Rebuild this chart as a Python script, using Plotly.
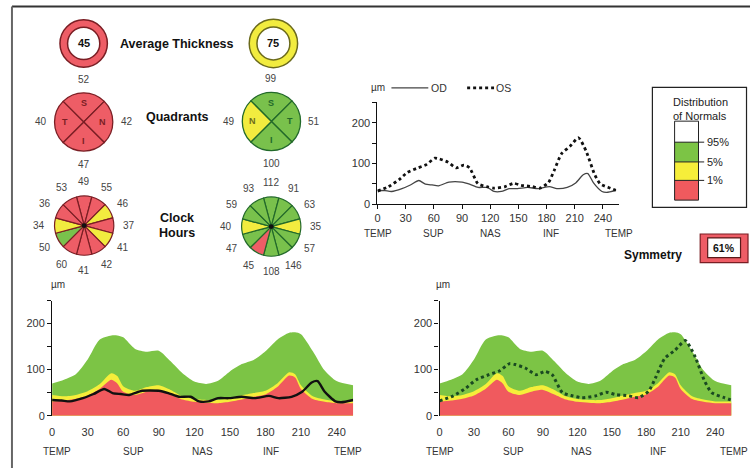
import math
import plotly.graph_objects as go

W, H = 750, 474
def X(px): return px / W
def Y(py): return 1 - py / H

# ------------------------------------------------------------------ data
avg_thickness = [45, 75]
avg_class = ["red", "yellow"]

quad_names_od = ["S", "N", "I", "T"]          # clockwise from 12 o'clock
quad_vals_od = [52, 42, 47, 40]
quad_class_od = ["red", "red", "red", "red"]
quad_names_os = ["S", "T", "I", "N"]
quad_vals_os = [99, 51, 100, 49]
quad_class_os = ["green", "green", "green", "yellow"]

clock_vals_od = [49, 55, 46, 37, 41, 42, 41, 60, 50, 34, 36, 53]
clock_class_od = ["red", "red", "yellow", "red", "yellow", "red",
                  "red", "red", "green", "yellow", "red", "red"]
clock_vals_os = [112, 91, 63, 35, 57, 146, 108, 45, 47, 40, 59, 93]
clock_class_os = ["green", "green", "green", "yellow", "green", "green",
                  "green", "red", "green", "yellow", "green", "green"]

symmetry = 61

norm_angle = [0, 10, 20, 30, 40, 50, 55, 60, 70, 80, 90, 100, 110, 120, 130, 140,
              150, 160, 170, 180, 190, 200, 205, 210, 220, 230, 240, 254]
norm_p95 = [70, 78, 90, 122, 165, 174, 174, 170, 145, 139, 141, 118, 92, 74, 69, 76,
            96, 112, 121, 140, 165, 180, 181, 177, 140, 98, 75, 66]
norm_p5 = [45, 42, 45, 53, 68, 92, 86, 64, 54, 62, 66, 56, 42, 36, 34, 34,
           38, 44, 49, 54, 70, 94, 90, 66, 42, 35, 31, 31]
norm_p1 = [31, 33, 37, 44, 58, 78, 70, 52, 45, 52, 56, 46, 35, 30, 28, 27,
           30, 35, 41, 46, 62, 87, 83, 58, 36, 30, 27, 27]

od_angle = [0, 8, 15, 26, 35, 44, 51, 58, 65, 76, 90, 98, 107, 117, 124, 132, 140,
            149, 160, 171, 183, 191, 202, 211, 219, 224, 230, 239, 244, 254]
od_thick = [34, 33, 31, 38, 47, 58, 49, 47, 45, 54, 54, 49, 41, 41, 31, 31, 38,
            38, 41, 38, 43, 38, 41, 52, 72, 75, 52, 31, 29, 34]

os_angle = [0, 12, 23, 32, 43, 52, 61, 66, 75, 84, 92, 98, 107, 116, 124, 136, 145,
            153, 165, 173, 182, 188, 196, 205, 214, 222, 231, 237, 248, 256]
os_thick = [32, 43, 60, 78, 89, 97, 113, 111, 103, 89, 96, 89, 50, 43, 39, 43, 51,
            46, 43, 39, 53, 82, 124, 142, 163, 131, 74, 50, 39, 32]

x_ticks = [0, 30, 60, 90, 120, 150, 180, 210, 240]
y_ticks = [0, 50, 100, 150, 200, 250]
y_tick_text = ["0", "", "100", "", "200", ""]
region_labels = ["TEMP", "SUP", "NAS", "INF", "TEMP"]
region_pos_top = [1, 60, 120, 185, 257]
region_pos_bl = [4, 69, 127, 185, 250]
region_pos_br = [0, 64, 124, 190, 256]
dist_labels = ["95%", "5%", "1%"]

# ------------------------------------------------------------------ style
FILL = {"red": "#EE5D66", "yellow": "#F2EC3F", "green": "#79C14C"}
BAND = {"red": "#F05A5E", "yellow": "#F6EE3A", "green": "#7CC445"}
EDGE = {"red": "#7A1E24", "yellow": "#6B6A1C", "green": "#22692A"}
TXT = "#333333"
FONT = "Liberation Sans, Arial, sans-serif"

fig = go.Figure()
ann = []
shapes = []

def dom(cx, cy, r):
    return dict(x=[X(cx - r), X(cx + r)], y=[Y(cy + r), Y(cy - r)])

def label(x, y, text, size=10, color=TXT, bold=False, xanchor="center", xref="paper", yref="paper"):
    if bold:
        text = "<b>%s</b>" % text
    ann.append(dict(x=x, y=y, xref=xref, yref=yref, text=text, showarrow=False,
                    xanchor=xanchor, yanchor="middle",
                    font=dict(family=FONT, size=size, color=color)))

# ---- average thickness rings
for (cx, cy, r), val, cls in zip([(81, 44, 24), (271.5, 44, 24.5)], avg_thickness, avg_class):
    fig.add_trace(go.Pie(values=[1], hole=0.68, sort=False, textinfo="none", hoverinfo="skip",
                         marker=dict(colors=[FILL[cls]], line=dict(color=EDGE[cls], width=1.5)),
                         domain=dom(cx, cy, r)))
    label(X(cx), Y(cy), str(val), size=11, color="#111", bold=True)
label(X(174.5), Y(45), "Average Thickness", size=12.5, color="#111", bold=True)

# ---- quadrants
for (cx, cy, r), names, vals, cls, edge in [
        ((81, 123.5, 29.5), quad_names_od, quad_vals_od, quad_class_od, EDGE["red"]),
        ((269.5, 123, 29.5), quad_names_os, quad_vals_os, quad_class_os, EDGE["green"])]:
    fig.add_trace(go.Pie(values=[1] * 4, sort=False, direction="clockwise", rotation=-45,
                         textinfo="none", hoverinfo="skip",
                         marker=dict(colors=[FILL[c] for c in cls], line=dict(color=edge, width=1.3)),
                         domain=dom(cx, cy, r)))
    for i, (n, v, c) in enumerate(zip(names, vals, cls)):
        a = math.radians(i * 90)
        label(X(cx + 19 * math.sin(a)), Y(cy - 19 * math.cos(a)), n, size=9, color=EDGE[c], bold=True)
        R = 43
        label(X(cx + R * math.sin(a)), Y(cy - R * math.cos(a)), str(v), size=10, color="#444")
label(X(175), Y(118), "Quadrants", size=12.5, color="#111", bold=True)

# ---- clock hours
for (cx, cy, r), vals, cls, edge in [
        ((81.5, 228.5, 30), clock_vals_od, clock_class_od, EDGE["red"]),
        ((269.3, 229.5, 30), clock_vals_os, clock_class_os, EDGE["green"])]:
    fig.add_trace(go.Pie(values=[1] * 12, sort=False, direction="clockwise", rotation=-15,
                         textinfo="none", hoverinfo="skip",
                         marker=dict(colors=[FILL[c] for c in cls], line=dict(color=edge, width=1.2)),
                         domain=dom(cx, cy, r)))
    for i, v in enumerate(vals):
        a = math.radians(i * 30)
        R = 45
        label(X(cx + R * math.sin(a)), Y(cy - R * math.cos(a)), str(v), size=10, color="#444")
    shapes.append(dict(type="circle", xref="paper", yref="paper",
                       x0=X(cx - 2.5), x1=X(cx + 2.5), y0=Y(cy + 2.5), y1=Y(cy - 2.5),
                       fillcolor="#111", line=dict(width=0)))
label(X(175), Y(221), "Clock", size=12.5, color="#111", bold=True)
label(X(175), Y(236), "Hours", size=12.5, color="#111", bold=True)

# ---- top comparison chart
fig.add_trace(go.Scatter(x=od_angle, y=od_thick, mode="lines", xaxis="x", yaxis="y",
                         line=dict(color="#444", width=1.3, shape="spline", smoothing=0.6),
                         hoverinfo="skip"))
fig.add_trace(go.Scatter(x=os_angle, y=os_thick, mode="lines", xaxis="x", yaxis="y",
                         line=dict(color="#111", width=2.8, dash="dot", shape="spline", smoothing=0.6),
                         hoverinfo="skip"))

# ---- bottom charts
for xa, ya in [("x2", "y2"), ("x3", "y3")]:
    for band, cls in [(norm_p95, "green"), (norm_p5, "yellow"), (norm_p1, "red")]:
        fig.add_trace(go.Scatter(x=norm_angle, y=band, mode="lines", fill="tozeroy",
                                 fillcolor=BAND[cls], xaxis=xa, yaxis=ya,
                                 line=dict(width=0, shape="spline", smoothing=0.7),
                                 hoverinfo="skip"))
fig.add_trace(go.Scatter(x=od_angle, y=od_thick, mode="lines", xaxis="x2", yaxis="y2",
                         line=dict(color="#111", width=2.4, shape="spline", smoothing=0.6),
                         hoverinfo="skip"))
fig.add_trace(go.Scatter(x=os_angle, y=os_thick, mode="lines", xaxis="x3", yaxis="y3",
                         line=dict(color="#1A4A22", width=3, dash="dot", shape="spline", smoothing=0.6),
                         hoverinfo="skip"))

tickfont = dict(family=FONT, size=11, color=TXT)
def xax(d, rng, line):
    return dict(domain=d, range=rng, tickvals=x_ticks, showgrid=False, zeroline=False,
                showline=line, linecolor="#111", linewidth=1.2,
                ticks="outside", ticklen=4 if line else 6,
                tickcolor="#111" if line else "rgba(0,0,0,0)",
                tickfont=tickfont, fixedrange=True)
def yax(d, anchor):
    return dict(domain=d, range=[0, 250], tickvals=y_ticks, ticktext=y_tick_text,
                showgrid=False, zeroline=False, showline=True, linecolor="#111",
                linewidth=1.3, ticks="outside", ticklen=4, tickcolor="#111",
                tickfont=tickfont, anchor=anchor, fixedrange=True)

top_x0, top_ppu = 376, 0.943
bl_x0, bl_ppu = 49.3, 1.19
br_x0, br_ppu = 438.3, 1.153

fig.update_layout(
    xaxis=xax([X(top_x0), X(top_x0 + 257 * top_ppu)], [0, 257], True) | dict(anchor="y"),
    yaxis=yax([Y(206.7), Y(206.7 - 250 * 0.412)], "x"),
    xaxis2=xax([X(bl_x0), X(bl_x0 + 254 * bl_ppu)], [0, 254], False) | dict(anchor="y2"),
    yaxis2=yax([Y(421), Y(421 - 250 * 0.4665)], "x2"),
    xaxis3=xax([X(br_x0), X(br_x0 + 257 * br_ppu)], [0, 257], False) | dict(anchor="y3"),
    yaxis3=yax([Y(421), Y(421 - 250 * 0.4665)], "x3"),
)

# region labels
for pos_list, xref, ypx in [(region_pos_top, "x", 236), (region_pos_bl, "x2", 457), (region_pos_br, "x3", 457)]:
    for p, t in zip(pos_list, region_labels):
        label(p, Y(ypx), t, size=10, color=TXT, xref=xref)

# µm labels
label(X(377), Y(89), "µm", size=10)
label(X(55), Y(288), "µm", size=10)
label(X(442), Y(288), "µm", size=10)

# top legend
shapes.append(dict(type="line", xref="paper", yref="paper", x0=X(390), x1=X(427), y0=Y(89), y1=Y(89),
                   line=dict(color="#444", width=1.3)))
label(X(438), Y(89), "OD", size=10.5)
shapes.append(dict(type="line", xref="paper", yref="paper", x0=X(466), x1=X(493), y0=Y(89), y1=Y(89),
                   line=dict(color="#111", width=2.6, dash="dot")))
label(X(503), Y(89), "OS", size=10.5)

# distribution of normals box
shapes.append(dict(type="rect", xref="paper", yref="paper", x0=X(652), x1=X(746.5), y0=Y(210), y1=Y(88.5),
                   line=dict(color="#222", width=1.2), fillcolor="white"))
label(X(700), Y(103), "Distribution", size=11, color="#222")
label(X(700), Y(117), "of Normals", size=11, color="#222")
bar_edges = [122.7, 144, 164, 182.7, 202.7]
for (top, bot), cls in zip(zip(bar_edges[:-1], bar_edges[1:]), ["white", "green", "yellow", "red"]):
    shapes.append(dict(type="rect", xref="paper", yref="paper", x0=X(674.3), x1=X(698.3),
                       y0=Y(bot), y1=Y(top), line=dict(width=0),
                       fillcolor="white" if cls == "white" else BAND[cls]))
shapes.append(dict(type="rect", xref="paper", yref="paper", x0=X(674.3), x1=X(698.3),
                   y0=Y(202.7), y1=Y(122.7), line=dict(color="#222", width=1)))
for edge_y, t in zip(bar_edges[1:4], dist_labels):
    shapes.append(dict(type="line", xref="paper", yref="paper", x0=X(674.3), x1=X(704), y0=Y(edge_y), y1=Y(edge_y),
                       line=dict(color="#222", width=1)))
    label(X(704.5), Y(edge_y), t, size=11, color="#222", xanchor="left")

# symmetry
label(X(652.5), Y(258), "Symmetry", size=12, color="#111", bold=True)
shapes.append(dict(type="rect", xref="paper", yref="paper", x0=X(700), x1=X(748), y0=Y(266), y1=Y(237),
                   line=dict(color=EDGE["red"], width=1.2), fillcolor=FILL["red"]))
shapes.append(dict(type="rect", xref="paper", yref="paper", x0=X(707.5), x1=X(740.5), y0=Y(261), y1=Y(241),
                   line=dict(color="#5a1a1a", width=1.2), fillcolor="white"))
label(X(724), Y(251), "%d%%" % symmetry, size=10.5, color="#111", bold=True)

# frame lines
shapes.append(dict(type="line", xref="paper", yref="paper", x0=X(9), x1=X(750), y0=Y(6.5), y1=Y(6.5),
                   line=dict(color="#333", width=2)))
shapes.append(dict(type="line", xref="paper", yref="paper", x0=X(9), x1=X(9), y0=Y(6.5), y1=Y(474),
                   line=dict(color="#666", width=2)))

fig.update_layout(width=W, height=H, margin=dict(l=0, r=0, t=0, b=0),
                  paper_bgcolor="white", plot_bgcolor="rgba(0,0,0,0)",
                  showlegend=False, annotations=ann, shapes=shapes,
                  font=dict(family=FONT))
fig.write_html("out.html", config={"displayModeBar": False},
               post_script="document.body.style.margin='0';document.body.style.overflow='hidden';")
